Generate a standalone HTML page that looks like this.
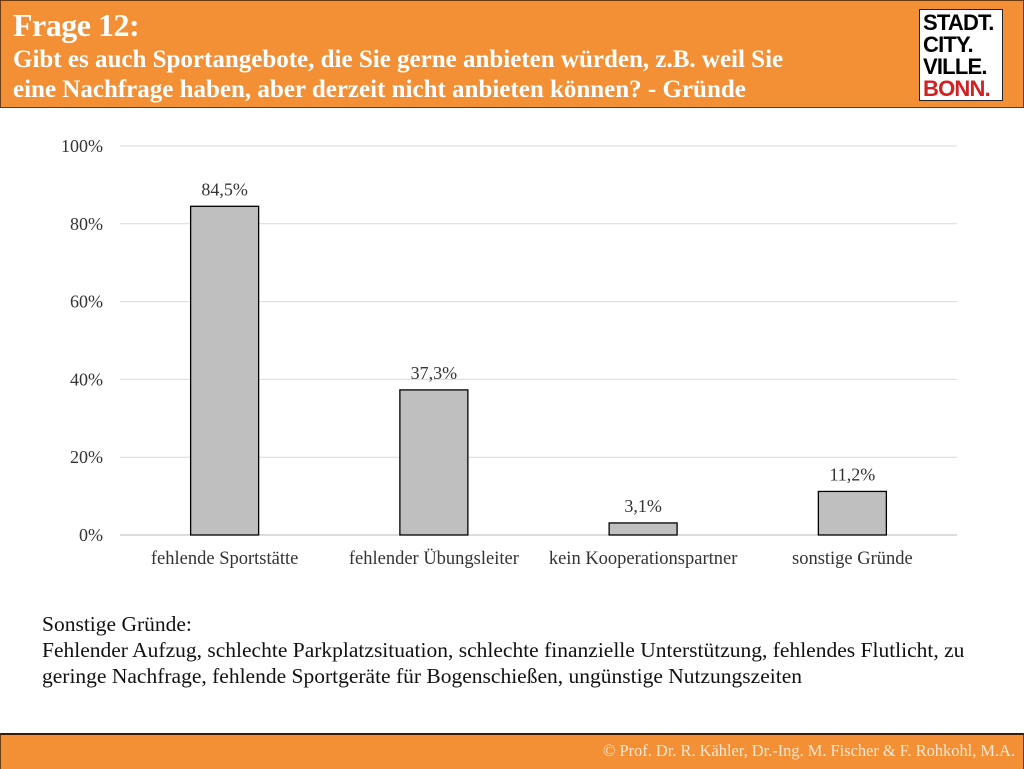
<!DOCTYPE html>
<html><head><meta charset="utf-8"><style>
body{margin:0;width:1024px;height:768px;position:relative;background:#fff;overflow:hidden;font-family:"Liberation Serif",serif}
.hdr{position:absolute;left:0;top:0;width:1022px;height:106px;background:#F39035;border:1px solid #6b3a10}
.t1{position:absolute;left:12px;top:6px;color:#fff;font-size:32px;font-weight:bold;letter-spacing:-0.5px}
.t2{position:absolute;left:12px;top:44px;color:#fff;font-size:25px;font-weight:bold;line-height:30px;letter-spacing:0px}
.logo{position:absolute;left:918px;top:8px;width:84px;height:92px;background:#fff;border:1px solid #222;font-family:"Liberation Sans",sans-serif;font-weight:bold;font-size:22px;line-height:22px;padding-left:3px;box-sizing:border-box;padding-top:2px;letter-spacing:-0.8px}
.ftr{position:absolute;left:0;top:733px;width:1022px;height:34px;background:#F39035;border-top:2px solid #3a1a05;border-left:1px solid #6b3a10;border-right:1px solid #6b3a10}
.ftr span{position:absolute;right:8px;top:6px;color:#fde7d0;font-size:16.4px}
.note{position:absolute;left:42px;top:611px;font-size:21.5px;line-height:26px;color:#111;white-space:nowrap}
</style></head><body>
<div class="hdr">
<div class="t1">Frage 12:</div>
<div class="t2">Gibt es auch Sportangebote, die Sie gerne anbieten würden, z.B. weil Sie<br>eine Nachfrage haben, aber derzeit nicht anbieten können? - Gründe</div>
<div class="logo">STADT.<br>CITY.<br>VILLE.<br><span style="color:#d42020">BONN.</span></div>
</div>
<svg id="chart" width="1024" height="768" style="position:absolute;left:0;top:0"></svg>
<div class="note">Sonstige Gründe:<br>Fehlender Aufzug, schlechte Parkplatzsituation, schlechte finanzielle Unterstützung, fehlendes Flutlicht, zu<br>geringe Nachfrage, fehlende Sportgeräte für Bogenschießen, ungünstige Nutzungszeiten</div>
<div class="ftr"><span>© Prof. Dr. R. Kähler, Dr.-Ing. M. Fischer &amp; F. Rohkohl, M.A.</span></div>
<script>
const categories=["fehlende Sportstätte","fehlender Übungsleiter","kein Kooperationspartner","sonstige Gründe"];
const values=[84.5,37.3,3.1,11.2];
const valueLabels=["84,5%","37,3%","3,1%","11,2%"];
const yTicks=[0,20,40,60,80,100];
const svg=document.getElementById('chart');const NS="http://www.w3.org/2000/svg";
const x0=120,x1=957,yb=535,yt=146;
const y=v=>yb-(v/100)*(yb-yt);
const bw=(x1-x0)/categories.length;
const xc=i=>x0+bw*(i+0.5);
function mk(t,a){const e=document.createElementNS(NS,t);for(const k in a)e.setAttribute(k,a[k]);svg.appendChild(e);return e;}
yTicks.forEach(t=>{
 const l=mk('line',{x1:x0,x2:x1,y1:y(t),y2:y(t),stroke:t===0?'#bbb':'#d9d9d9','stroke-width':1});
 
 
 const tx=mk('text',{x:103,y:y(t)+6,'text-anchor':'end','font-size':18,fill:'#333','font-family':'Liberation Serif'});
 tx.textContent=t+'%';
 
 
});
values.forEach((v,i)=>{
 const r=mk('rect',{x:xc(i)-34,y:y(v),width:68,height:yb-y(v),fill:'#bfbfbf',stroke:'#000','stroke-width':1.3});
 
 
 const lb=mk('text',{x:xc(i),y:y(v)-11,'text-anchor':'middle','font-size':18,fill:'#333','font-family':'Liberation Serif'});
 lb.textContent=valueLabels[i];
 
 
 const c=mk('text',{x:xc(i),y:564,'text-anchor':'middle','font-size':18.5,fill:'#333','font-family':'Liberation Serif'});
 c.textContent=categories[i];
 
 
});
</script>
</body></html>
